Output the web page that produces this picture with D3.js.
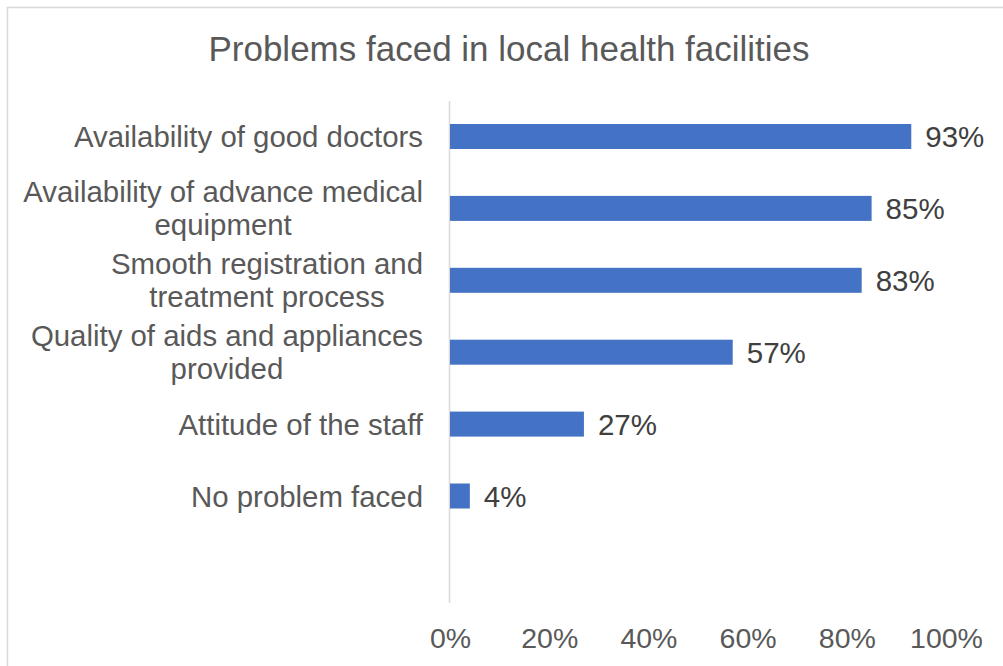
<!DOCTYPE html>
<html>
<head>
<meta charset="utf-8">
<script src="https://cdn.jsdelivr.net/npm/d3@7"></script>
<style>
  html, body { margin: 0; padding: 0; background: #fff; }
  svg { display: block; }
  text { font-family: "Liberation Sans", Arial, sans-serif; }
</style>
</head>
<body>
<svg id="chart" width="1003" height="666"></svg>
<script>
// Survey results: share of respondents reporting each problem
const title = "Problems faced in local health facilities";
const categories = [
  ["Availability of good doctors"],
  ["Availability of advance medical", "equipment"],
  ["Smooth registration and", "treatment process"],
  ["Quality of aids and appliances", "provided"],
  ["Attitude of the staff"],
  ["No problem faced"]
];
const values = [93, 85, 83, 57, 27, 4];
const tickValues = [0, 20, 40, 60, 80, 100];

const svg = d3.select("#chart");
const W = 1003, H = 666;

// outer chart frame
svg.append("rect")
  .attr("x", 7.5).attr("y", 7.5)
  .attr("width", W + 20).attr("height", H + 20)
  .attr("fill", "#fff")
  .attr("stroke", "#d9d9d9")
  .attr("stroke-width", 1.5);

// title
svg.append("text")
  .attr("x", 509).attr("y", 61)
  .attr("text-anchor", "middle")
  .attr("font-size", 35)
  .attr("fill", "#595959")
  .text(title);

const keys = categories.map(c => c.join(" "));
const x = d3.scaleLinear().domain([0, 100]).range([450, 946]);
const y = d3.scalePoint().domain(keys).range([136.5, 496]);
const barH = 25;

// vertical category axis line
svg.append("line")
  .attr("x1", 449.5).attr("x2", 449.5)
  .attr("y1", 101).attr("y2", 603)
  .attr("stroke", "#d9d9d9").attr("stroke-width", 1.5);

// bars
svg.append("g").selectAll("rect")
  .data(values)
  .join("rect")
  .attr("x", x(0))
  .attr("y", (d, i) => y(keys[i]) - barH / 2)
  .attr("width", d => x(d) - x(0))
  .attr("height", barH)
  .attr("fill", "#4472C4");

// value labels
svg.append("g").selectAll("text")
  .data(values)
  .join("text")
  .attr("x", d => x(d) + 14)
  .attr("y", (d, i) => y(keys[i]) + 10.5)
  .attr("font-size", 29.5)
  .attr("fill", "#404040")
  .text(d => d + "%");

// category labels: lines centred within a right-aligned block
const lineH = 33;
const catG = svg.append("g");
categories.forEach((lines, i) => {
  const cy = y(keys[i]);
  const g = catG.append("g");
  const texts = lines.map((ln, j) =>
    g.append("text")
      .attr("y", cy + 10.5 + (j - (lines.length - 1) / 2) * lineH)
      .attr("font-size", 29.4)
      .attr("fill", "#595959")
      .attr("text-anchor", "middle")
      .text(ln));
  const widths = texts.map(t => t.node().getComputedTextLength());
  const maxW = d3.max(widths);
  const cx = 423 - maxW / 2;
  texts.forEach(t => t.attr("x", cx));
});

// value axis ticks
const xAxis = d3.axisBottom(x)
  .tickValues(tickValues)
  .tickFormat(d => d + "%")
  .tickSize(0)
  .tickPadding(0);
const ax = svg.append("g")
  .attr("transform", "translate(0,627.5)")
  .call(xAxis);
ax.select(".domain").remove();
ax.selectAll("text")
  .attr("font-size", 28.5)
  .attr("font-family", "'Liberation Sans', Arial, sans-serif")
  .attr("fill", "#595959")
  .attr("dy", "0.71em");
</script>
</body>
</html>
